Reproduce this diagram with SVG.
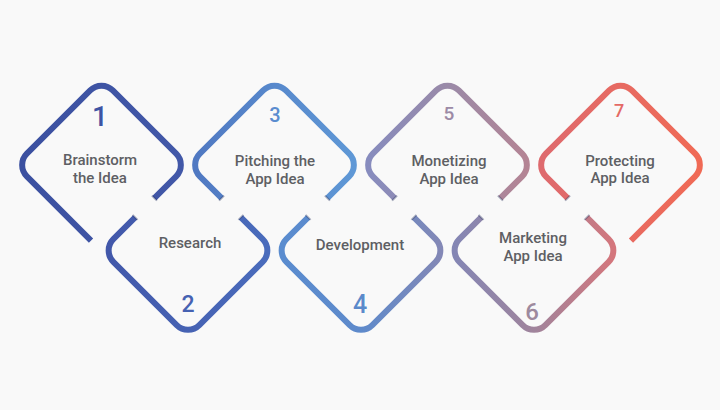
<svg xmlns="http://www.w3.org/2000/svg" width="720" height="410" viewBox="0 0 720 410">
<defs>
<linearGradient id="g1" x1="0" y1="0" x2="1" y2="0"><stop offset="0" stop-color="#3b50a0"/><stop offset="1" stop-color="#4258a8"/></linearGradient>
<linearGradient id="g2" x1="0" y1="0" x2="1" y2="0"><stop offset="0" stop-color="#4258aa"/><stop offset="1" stop-color="#4a6cbc"/></linearGradient>
<linearGradient id="g3" x1="0" y1="0" x2="1" y2="0"><stop offset="0" stop-color="#5079c2"/><stop offset="1" stop-color="#5f98d6"/></linearGradient>
<linearGradient id="g4" x1="0" y1="0" x2="1" y2="0"><stop offset="0" stop-color="#5a8ccf"/><stop offset="0.5" stop-color="#5e8acb"/><stop offset="1" stop-color="#8388b6"/></linearGradient>
<linearGradient id="g5" x1="0" y1="0" x2="1" y2="0"><stop offset="0" stop-color="#878cbe"/><stop offset="0.5" stop-color="#9a8aa8"/><stop offset="1" stop-color="#b48494"/></linearGradient>
<linearGradient id="g6" x1="0" y1="0" x2="1" y2="0"><stop offset="0" stop-color="#8486b4"/><stop offset="0.5" stop-color="#a0849c"/><stop offset="1" stop-color="#d4767c"/></linearGradient>
<linearGradient id="g7" x1="0" y1="0" x2="1" y2="0"><stop offset="0" stop-color="#de6a6e"/><stop offset="1" stop-color="#f06a55"/></linearGradient>
<style>
.shape{fill:none;stroke-width:6;stroke-linecap:butt;stroke-linejoin:round}
.tick{stroke:#1f2a55;stroke-opacity:0.35;stroke-width:2;stroke-linecap:butt}
.lbl{font-family:Roboto,"Liberation Sans",sans-serif;font-weight:500;font-size:15px;fill:#5e5f64;text-anchor:middle}
.num{font-family:Roboto,"Liberation Sans",sans-serif;font-weight:500;text-anchor:middle}
</style>
</defs>
<rect x="0" y="0" width="720" height="410" fill="#f9f9f9"/>
<g id="connectors"></g>
<g id="step1">
<path class="shape" stroke="url(#g1)" d="M91.03,240.52 L26.83,176.31 A16,16 0 0 1 26.83,153.69 L90.19,90.33 A16,16 0 0 1 112.81,90.33 L176.17,153.69 A16,16 0 0 1 176.17,176.31 L154.39,198.09"/>
<line class="tick" x1="151.9" y1="195.6" x2="156.9" y2="200.6"/>
<text class="num" x="100" y="126" font-size="28" fill="#3e54a4">1</text>
<text class="lbl" x="100" y="165">Brainstorm</text>
<text class="lbl" x="100" y="183">the Idea</text>
</g>
<g id="step2">
<path class="shape" stroke="url(#g2)" d="M135.11,217.41 L113.33,239.19 A16,16 0 0 0 113.33,261.81 L176.69,325.17 A16,16 0 0 0 199.31,325.17 L262.67,261.81 A16,16 0 0 0 262.67,239.19 L240.89,217.41"/>
<line class="tick" x1="132.6" y1="214.9" x2="137.6" y2="219.9"/>
<line class="tick" x1="238.4" y1="219.9" x2="243.4" y2="214.9"/>
<text class="num" x="188" y="312" font-size="23" fill="#4662b2">2</text>
<text class="lbl" x="190" y="248">Research</text>
</g>
<g id="step3">
<path class="shape" stroke="url(#g3)" d="M221.61,198.09 L199.83,176.31 A16,16 0 0 1 199.83,153.69 L263.19,90.33 A16,16 0 0 1 285.81,90.33 L349.17,153.69 A16,16 0 0 1 349.17,176.31 L327.39,198.09"/>
<line class="tick" x1="219.1" y1="200.6" x2="224.1" y2="195.6"/>
<line class="tick" x1="324.9" y1="195.6" x2="329.9" y2="200.6"/>
<text class="num" x="275" y="121.5" font-size="20" fill="#5a8ccf">3</text>
<text class="lbl" x="275" y="166">Pitching the</text>
<text class="lbl" x="275" y="184">App Idea</text>
</g>
<g id="step4">
<path class="shape" stroke="url(#g4)" d="M308.11,217.41 L286.33,239.19 A16,16 0 0 0 286.33,261.81 L349.69,325.17 A16,16 0 0 0 372.31,325.17 L435.67,261.81 A16,16 0 0 0 435.67,239.19 L413.89,217.41"/>
<line class="tick" x1="305.6" y1="214.9" x2="310.6" y2="219.9"/>
<line class="tick" x1="411.4" y1="219.9" x2="416.4" y2="214.9"/>
<text class="num" x="360" y="313" font-size="25" fill="#5b8acb">4</text>
<text class="lbl" x="360" y="249.5">Development</text>
</g>
<g id="step5">
<path class="shape" stroke="url(#g5)" d="M394.61,198.09 L372.83,176.31 A16,16 0 0 1 372.83,153.69 L436.19,90.33 A16,16 0 0 1 458.81,90.33 L522.17,153.69 A16,16 0 0 1 522.17,176.31 L500.39,198.09"/>
<line class="tick" x1="392.1" y1="200.6" x2="397.1" y2="195.6"/>
<line class="tick" x1="497.9" y1="195.6" x2="502.9" y2="200.6"/>
<text class="num" x="449" y="120" font-size="19" fill="#9c8aa6">5</text>
<text class="lbl" x="449" y="166">Monetizing</text>
<text class="lbl" x="449" y="184">App Idea</text>
</g>
<g id="step6">
<path class="shape" stroke="url(#g6)" d="M481.11,217.41 L459.33,239.19 A16,16 0 0 0 459.33,261.81 L522.69,325.17 A16,16 0 0 0 545.31,325.17 L608.67,261.81 A16,16 0 0 0 608.67,239.19 L586.89,217.41"/>
<line class="tick" x1="478.6" y1="214.9" x2="483.6" y2="219.9"/>
<line class="tick" x1="584.4" y1="219.9" x2="589.4" y2="214.9"/>
<text class="num" x="532" y="320" font-size="24" fill="#9e8a9e">6</text>
<text class="lbl" x="533" y="243">Marketing</text>
<text class="lbl" x="533" y="261">App Idea</text>
</g>
<g id="step7">
<path class="shape" stroke="url(#g7)" d="M567.61,198.09 L545.83,176.31 A16,16 0 0 1 545.83,153.69 L609.19,90.33 A16,16 0 0 1 631.81,90.33 L695.17,153.69 A16,16 0 0 1 695.17,176.31 L630.97,240.52"/>
<line class="tick" x1="565.1" y1="200.6" x2="570.1" y2="195.6"/>
<text class="num" x="619" y="117" font-size="18" fill="#e46a66">7</text>
<text class="lbl" x="620" y="166">Protecting</text>
<text class="lbl" x="620" y="183">App Idea</text>
</g>
</svg>
